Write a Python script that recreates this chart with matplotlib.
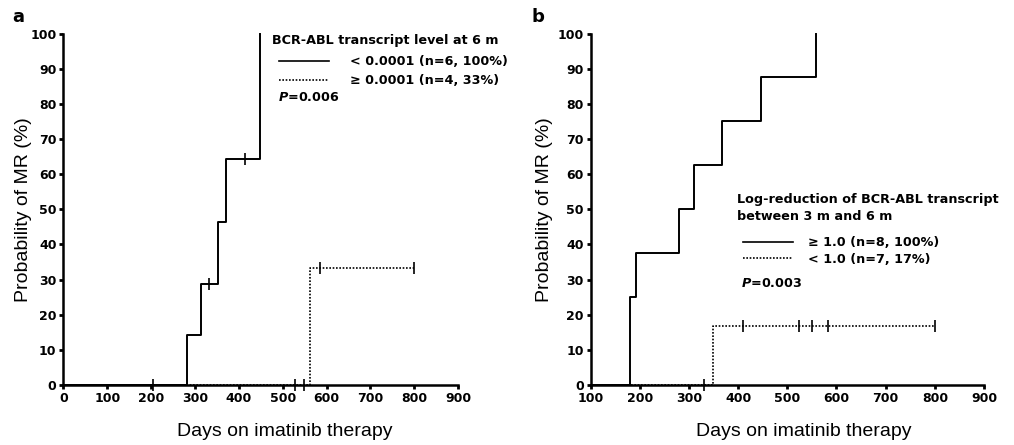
import matplotlib
matplotlib.use("Agg")
import matplotlib.pyplot as plt
from matplotlib.lines import Line2D

# panel a: BCR-ABL transcript level at 6 m
a_low_t = [0, 281, 314, 352, 371, 449]
a_low_p = [0, 14.3, 28.6, 46.4, 64.3, 100]
a_low_cens_t = [205, 332, 414]
a_low_cens_p = [0, 28.6, 64.3]
a_high_t = [0, 562, 800]
a_high_p = [0, 33.3, 33.3]
a_high_cens_t = [528, 549, 585, 800]
a_high_cens_p = [0, 0, 33.3, 33.3]

# panel b: log-reduction between 3 m and 6 m
b_ge_t = [100, 180, 192, 280, 310, 368, 446, 558]
b_ge_p = [0, 25, 37.5, 50, 62.5, 75, 87.5, 100]
b_lt_t = [100, 348, 800]
b_lt_p = [0, 16.7, 16.7]
b_lt_cens_t = [330, 410, 524, 551, 583, 800]
b_lt_cens_p = [0, 16.7, 16.7, 16.7, 16.7, 16.7]

a_labels = ["< 0.0001 (n=6, 100%)", "\u2265 0.0001 (n=4, 33%)"]
b_labels = ["\u2265 1.0 (n=8, 100%)", "< 1.0 (n=7, 17%)"]

plt.rcParams['font.family'] = ['DejaVu Sans']
plt.rcParams['mathtext.fontset'] = 'custom'
plt.rcParams['mathtext.it'] = 'DejaVu Sans:italic:bold'

fig = plt.figure(figsize=(10.14, 4.45), dpi=100)
ax1 = fig.add_axes([0.0626, 0.1348, 0.3891, 0.7899])
ax2 = fig.add_axes([0.5825, 0.1348, 0.3879, 0.7899])

solid_kw = dict(color='black', lw=1.4, where='post', clip_on=False)
dot_kw = dict(color='black', lw=1.2, where='post', linestyle=(0, (1, 1)), clip_on=False)
cens_kw = dict(color='black', marker='|', ms=8, mew=1.2, linestyle='none', clip_on=False)
lab_font = ['Liberation Sans', 'DejaVu Sans']
fs = 9.2


def style(ax, xmin, ticks, xlab_x, ylab_x):
    ax.set_xlim(xmin, 900)
    ax.set_ylim(0, 100)
    ax.set_xticks(ticks)
    ax.set_yticks(range(0, 101, 10))
    for s in ['top', 'right']:
        ax.spines[s].set_visible(False)
    for s in ['left', 'bottom']:
        ax.spines[s].set_linewidth(1.8)
    ax.tick_params(direction='out', length=3, width=2, labelsize=9, pad=2)
    for lab in ax.get_xticklabels() + ax.get_yticklabels():
        lab.set_fontweight('bold')
    ax.set_ylabel('Probability of MR (%)', fontsize=14, family=lab_font)
    ax.set_xlabel('Days on imatinib therapy', fontsize=14, family=lab_font)
    ax.xaxis.set_label_coords(xlab_x, -0.108)
    ax.yaxis.set_label_coords(ylab_x, 0.5)


def legend(ax, labels, anchor, spacing, textpad):
    handles = [Line2D([], [], color='black', lw=1.2),
               Line2D([], [], color='black', lw=1.2, linestyle=(0, (1, 1)))]
    ax.legend(handles, labels, loc='upper left', bbox_to_anchor=anchor, frameon=False,
              borderpad=0, borderaxespad=0, handlelength=3.9, handletextpad=textpad,
              labelspacing=spacing, prop={'size': fs, 'weight': 'bold'})


# panel a
ax1.step(a_low_t, a_low_p, **solid_kw)
ax1.plot(a_low_cens_t, a_low_cens_p, **cens_kw)
ax1.step(a_high_t, a_high_p, **dot_kw)
ax1.plot(a_high_cens_t, a_high_cens_p, **cens_kw)
style(ax1, 0, range(0, 901, 100), 0.561, -0.08)
ax1.text(0.5285, 0.981, 'BCR-ABL transcript level at 6 m', transform=ax1.transAxes,
         fontsize=fs, fontweight='bold', va='center')
legend(ax1, a_labels, (0.546, 0.938), 0.45, 1.7)
ax1.text(0.544, 0.819, r'$\it{P}$=0.006', transform=ax1.transAxes, fontsize=fs,
         fontweight='bold', va='center')

# panel b
ax2.step(b_ge_t, b_ge_p, **solid_kw)
ax2.step(b_lt_t, b_lt_p, **dot_kw)
ax2.plot(b_lt_cens_t, b_lt_cens_p, **cens_kw)
style(ax2, 100, range(100, 901, 100), 0.542, -0.095)
ax2.text(0.372, 0.5036, 'Log-reduction of BCR-ABL transcript\nbetween 3 m and 6 m',
         transform=ax2.transAxes, fontsize=fs, fontweight='bold', va='center',
         linespacing=1.45)
legend(ax2, b_labels, (0.387, 0.423), 0.28, 1.2)
ax2.text(0.382, 0.29, r'$\it{P}$=0.003', transform=ax2.transAxes, fontsize=fs,
         fontweight='bold', va='center')

fig.text(0.012, 0.962, 'a', fontsize=13, fontweight='bold', va='center')
fig.text(0.524, 0.962, 'b', fontsize=13, fontweight='bold', va='center')

fig.savefig('out.png', dpi=100)
